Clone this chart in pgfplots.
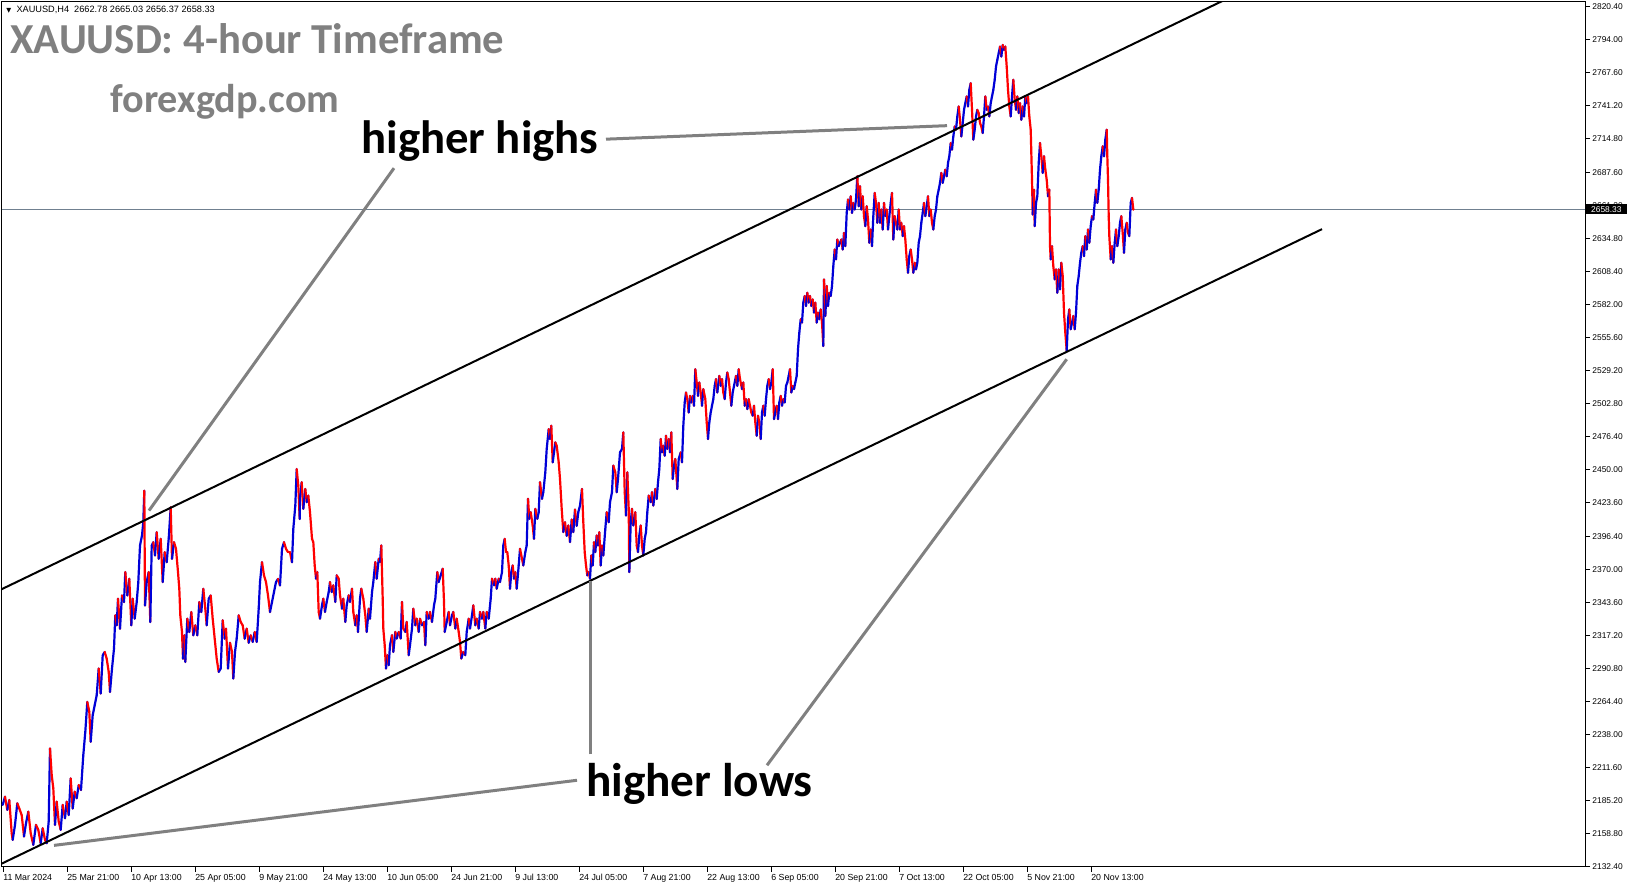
\documentclass[border=0pt]{standalone}
\usepackage{fontspec}
\setmainfont{Liberation Sans}
\newfontfamily\calfont{Carlito}
\newfontfamily\dvfont{DejaVu Sans}
\usepackage{pgfplots}
\usepackage{pgfplotstable}
\pgfplotsset{compat=1.18}
\definecolor{mtblue}{RGB}{0,0,215}
\definecolor{mtred}{RGB}{255,0,0}
\definecolor{annot}{RGB}{128,128,128}
\definecolor{pline}{RGB}{112,128,144}

\pgfplotstableread{
x p
2.7 2181.7
5 2188.3
7.3 2177.7
9.3 2185.6
11.7 2159.0
12.7 2153.7
15 2165.7
17.3 2183.0
19.3 2178.8
21.7 2173.6
24 2156.4
26 2167.0
28.3 2176.3
30.7 2159.0
33.3 2149.7
36 2165.7
38.3 2161.7
40.7 2151.0
42.7 2163.0
45 2153.7
46.7 2151.0
48.7 2168.4
50 2226.9
51.7 2205.6
53.3 2195.0
55 2165.7
56.7 2184.3
58.7 2168.4
60.7 2161.7
62.7 2181.7
65 2171.0
66.7 2184.3
68.7 2173.6
70.7 2202.9
72.7 2178.8
74.7 2192.3
76.7 2187.0
78.7 2197.6
81 2193.6
83.3 2221.6
85.3 2240.2
87.3 2264.1
89.3 2256.2
90.7 2232.2
92.7 2253.5
94.7 2261.5
96.7 2269.5
98.7 2290.8
100.7 2270.8
102.7 2301.4
104.7 2304.1
106.7 2298.7
108.7 2288.1
110 2272.1
112 2290.8
114 2306.7
115.3 2333.4
116.7 2325.4
118 2346.7
120 2322.7
122 2349.3
124 2344.0
125.3 2368.0
127.3 2349.3
129.3 2362.6
131.3 2325.4
132.7 2346.7
134.7 2330.7
136.7 2344.0
138.3 2360.0
140 2389.2
142 2397.2
143.3 2407.9
144.3 2433.1
145 2341.3
146.7 2360.0
148.7 2368.0
150.3 2328.0
151.7 2389.2
153.3 2391.9
155 2381.3
156.7 2399.9
158.7 2378.6
160.7 2394.6
162.7 2360.0
164.7 2383.9
166.7 2375.9
168.7 2394.6
170.7 2419.8
172 2378.6
174 2391.9
176 2386.6
178 2368.0
179.3 2354.6
180.3 2333.4
182 2320.0
183 2298.7
184.3 2317.4
185.3 2296.1
187.3 2330.7
189.3 2320.0
191.3 2336.0
193.3 2317.4
195.3 2325.4
197.3 2317.4
199.3 2344.0
201.3 2336.0
203.3 2354.6
205.3 2338.7
206.7 2325.4
208.7 2346.7
210.7 2349.3
212.7 2330.7
214.7 2314.7
216.7 2298.7
218.7 2288.1
220.7 2290.8
222.7 2329.4
224.7 2314.7
226 2322.7
228 2290.8
230 2311.4
232 2304.1
233.3 2282.8
235 2304.1
236.7 2314.7
238.7 2333.4
240.7 2328.0
242.7 2325.4
244.7 2314.7
246.7 2322.7
248.7 2311.4
250.7 2317.4
252.7 2312.1
254.7 2320.0
256.7 2312.1
258.7 2338.7
260 2360.0
262 2375.9
264 2365.3
266 2360.0
268 2349.3
270 2336.0
272 2344.0
274 2352.0
276 2360.0
278 2362.6
280 2357.3
282 2386.6
284 2391.9
286 2386.6
288 2383.9
290 2383.9
292 2375.9
293.3 2402.5
295.3 2421.2
296.7 2450.4
298.3 2437.1
299.7 2410.5
300 2426.6
301.7 2439.9
303.3 2418.6
305.3 2434.5
306.7 2423.9
308.3 2429.2
310 2415.9
312 2394.6
313.3 2391.9
314.7 2373.3
316 2362.7
317.3 2368.0
318.7 2336.1
320 2330.7
322 2341.4
323.3 2346.7
325 2336.1
326.7 2344.1
328.7 2352.0
330 2360.0
331.7 2352.0
333.3 2357.4
335.3 2344.1
336.7 2365.4
338.7 2362.7
340 2349.4
342 2338.7
343.3 2346.7
345.3 2328.1
346.7 2341.4
348.7 2349.4
350 2344.1
352 2354.7
353.3 2336.1
355.3 2325.4
356.7 2333.4
358 2320.1
360 2346.7
361.3 2354.7
363.3 2346.7
365.3 2333.4
366.7 2320.1
368.7 2338.7
370 2330.7
372 2352.0
373.3 2360.0
375.3 2376.0
376.7 2362.7
378.7 2378.6
380 2376.0
381.3 2389.3
382.7 2346.7
383.3 2322.8
384.7 2309.5
386 2290.8
387.3 2301.5
388.7 2293.5
390 2309.5
392 2317.5
393.3 2304.1
395.3 2320.1
396.7 2314.8
398.7 2320.1
400.7 2314.8
402 2344.1
403.3 2322.8
405.3 2320.1
406.7 2328.1
408.7 2301.5
410 2309.5
412 2322.8
413.3 2338.7
415.3 2325.4
416.7 2330.7
418.7 2320.1
420 2330.7
422 2325.4
424 2328.1
425.3 2309.5
426.7 2336.1
428.7 2330.7
430 2336.1
432 2328.1
434 2341.4
435.3 2346.7
437.3 2368.0
438.7 2360.0
440.7 2365.4
442.7 2370.7
444 2344.1
444.7 2320.1
446.7 2328.1
448.7 2336.1
450 2325.4
452 2333.4
453.3 2336.1
455.3 2322.8
456.7 2330.7
458.7 2320.1
460 2312.1
461.3 2298.8
463.3 2304.1
465.3 2301.5
466.7 2320.1
468.7 2330.7
470 2322.8
472 2333.4
473.3 2341.4
475.3 2325.4
476.7 2330.7
478.7 2322.8
480 2336.1
482 2330.7
483.3 2336.1
485.3 2322.8
486.7 2336.1
488.7 2330.7
490.7 2346.7
492 2362.7
494 2357.4
495.3 2362.7
496.7 2354.7
498.7 2362.7
500 2360.0
502 2368.0
503.3 2389.3
504.7 2394.6
506 2384.0
507.3 2384.0
508.7 2373.3
510 2354.7
511.3 2368.0
512.7 2373.3
514 2362.7
515.3 2368.0
516.7 2354.7
518.7 2373.3
520 2386.6
522 2378.6
523.3 2373.3
525.3 2384.0
526.7 2389.3
528 2426.6
529.3 2410.6
530.7 2415.9
532.7 2405.3
534 2394.6
535.3 2418.6
537.3 2410.6
538.7 2415.9
540 2439.9
542 2426.6
543.3 2431.9
545.3 2447.9
546.7 2466.5
548.7 2482.4
550 2474.5
551.3 2485.1
552.7 2455.8
554 2463.8
555.3 2471.8
556.7 2469.1
558.7 2455.8
560 2442.5
561.7 2418.6
563.3 2400.0
565 2407.9
566.7 2397.0
568.3 2405.3
570 2392.0
571.7 2410.0
573.3 2400.0
575 2418.0
576.7 2405.0
578.3 2416.0
580 2421.2
582 2434.5
583.3 2407.9
584.7 2384.0
586 2373.3
587.3 2365.3
588.7 2368.0
590 2362.7
591.3 2381.3
592.7 2373.3
594 2391.9
595.3 2384.0
596.7 2397.3
598 2389.3
599.3 2399.9
600.7 2373.3
602 2389.3
603.3 2381.3
605.3 2402.6
606.7 2415.9
608.7 2407.9
610 2423.9
612 2431.9
613.3 2453.2
615.3 2447.8
616.7 2431.9
618 2442.5
620 2463.8
622 2466.5
623.3 2479.8
624.7 2431.9
626 2413.2
627.3 2447.8
628.7 2418.6
629.3 2368.0
630.7 2407.9
632 2418.6
633.3 2405.3
635.3 2415.9
636.7 2389.3
638 2384.0
639.3 2397.3
640.7 2405.3
642 2389.3
643.3 2381.3
644.7 2394.6
646 2399.9
647.3 2415.9
648.7 2429.2
650.7 2423.9
652 2431.9
653.3 2421.2
655.3 2434.5
656.7 2426.5
658 2439.9
659.3 2450.5
660.7 2474.5
662 2463.8
663.3 2469.1
664.7 2461.1
666 2477.1
667.3 2466.5
668.7 2474.5
670 2463.8
671.3 2479.8
672.7 2442.5
674 2453.2
675.3 2458.5
676.7 2442.5
677.3 2434.5
678.7 2458.5
680.7 2463.8
682 2455.8
683.3 2485.1
684.7 2503.7
686 2511.7
687.3 2506.4
688.7 2495.7
690 2509.0
691.3 2503.7
692.7 2509.0
694 2501.1
695.3 2530.3
696.7 2519.7
698 2509.0
699.3 2519.7
700.7 2511.7
702 2501.1
703.3 2514.4
705.3 2506.4
706.7 2487.8
708 2474.5
709.3 2487.8
710.7 2495.7
712 2501.1
713.3 2506.4
714.7 2517.0
716 2522.4
717.3 2511.7
719.3 2525.0
720.7 2517.0
722 2522.4
723.3 2511.7
724.7 2506.4
726 2519.7
727.3 2527.7
728.7 2522.4
730 2511.7
731.3 2501.1
732.7 2511.7
734 2517.0
736 2525.0
737.3 2517.0
738.7 2530.3
740 2522.4
742 2514.4
743.3 2519.7
744.7 2501.1
746 2506.4
747.3 2498.4
748.7 2506.4
750 2501.1
751.3 2495.7
752.7 2493.1
754 2501.1
755.3 2487.8
756.7 2477.1
758 2493.1
759.3 2487.8
760.7 2474.5
762 2495.7
763.3 2501.1
764.7 2493.1
766 2506.4
767.3 2517.0
768.7 2522.4
770 2514.4
771.3 2519.7
772.7 2530.3
774 2490.4
775.3 2495.7
776.7 2501.1
778 2490.4
779.3 2503.7
780.7 2509.0
782 2501.1
783.3 2506.4
784.7 2503.7
786 2517.0
787.3 2519.7
788.7 2525.0
790 2530.3
791.3 2511.7
792.7 2517.0
794 2514.4
795.3 2519.7
796.7 2525.0
798 2546.3
799.3 2559.6
800.7 2570.3
802 2567.6
803.3 2583.6
804.7 2588.9
806 2580.9
807.3 2591.5
808.7 2583.6
810 2588.9
811.3 2580.9
812.7 2586.2
814 2575.6
815.3 2583.6
816.7 2567.6
818 2575.6
819.3 2570.3
820.7 2578.2
822 2567.6
823.3 2548.9
824 2602.2
825.3 2572.9
826.7 2596.9
828 2580.9
829.3 2591.5
830.7 2588.9
832 2596.9
833.3 2612.8
834.7 2626.1
836 2618.2
837.3 2634.1
838.7 2628.8
840 2631.5
841.3 2634.1
842.7 2626.1
844 2639.4
845.3 2628.8
846.7 2655.4
848 2666.1
849.3 2658.1
850.7 2668.7
852 2655.4
853.3 2663.4
854.7 2658.1
856 2666.1
857.3 2684.7
858.7 2660.7
860 2676.7
861.3 2658.1
862.7 2668.7
864 2652.8
865.3 2644.8
866.7 2660.7
868 2650.1
869.3 2631.5
870.7 2642.1
872 2628.8
873.3 2652.8
874.7 2671.4
876 2663.4
877.3 2647.5
878.7 2663.4
880 2647.5
881.3 2658.1
882.7 2642.1
884 2663.4
885.3 2652.8
886.7 2658.1
888 2642.1
889.3 2652.8
890.7 2663.4
892 2671.4
893.3 2634.1
894.7 2652.8
896 2647.5
897.3 2642.1
898.7 2658.1
900 2642.1
901.3 2647.5
902.7 2636.8
904 2644.8
905.3 2634.1
906.7 2618.2
908 2607.5
909.3 2620.8
910.7 2626.1
912 2618.2
913.3 2607.5
914.7 2615.5
916 2610.2
917.3 2615.5
918.7 2631.5
920 2636.8
921.3 2647.5
922.7 2655.4
924 2663.4
925.3 2652.8
926.7 2660.7
928 2668.7
929.3 2652.8
930.7 2658.1
932 2647.5
933.3 2642.1
934.7 2652.8
936 2658.1
937.3 2668.7
938.7 2674.0
940 2679.4
941.3 2687.4
942.7 2679.4
944 2684.7
945.3 2690.0
946.7 2684.7
948 2695.3
949.3 2700.7
950.7 2711.3
952 2706.0
953.3 2716.6
954.7 2724.6
956 2722.0
957.3 2732.6
958.7 2740.6
960 2730.0
961.3 2716.6
962.7 2727.3
964 2737.9
965.3 2743.2
966.7 2748.6
968 2740.6
969.3 2753.9
970.7 2759.2
972 2737.9
973.3 2714.0
974.7 2722.0
976 2732.6
977.3 2737.9
978.7 2735.3
980 2727.3
981.3 2724.6
982.7 2719.3
984 2732.6
985.3 2748.6
986.7 2737.9
988 2740.6
989.3 2732.6
990.7 2743.2
992 2748.6
993.3 2753.9
994.7 2761.9
996 2772.5
997.3 2777.9
998.7 2783.2
1000 2788.5
1001.3 2780.5
1002.7 2789.8
1004 2785.8
1005.3 2788.5
1006.7 2772.5
1008 2753.9
1009.3 2740.6
1010.7 2732.6
1012 2748.6
1013.3 2761.9
1014.7 2745.9
1016 2737.9
1017.3 2748.6
1018.7 2735.3
1020 2743.2
1021.3 2729.9
1022.7 2740.6
1024 2732.6
1025.3 2748.6
1026.7 2743.2
1028 2748.6
1029.3 2732.6
1030.7 2722.0
1031.3 2703.3
1032 2682.0
1032.7 2654.1
1034 2674.0
1034.7 2644.8
1036 2663.4
1037.3 2668.7
1038.7 2695.3
1040 2711.3
1041.3 2700.7
1042.7 2687.4
1044 2700.7
1045.3 2690.0
1046.7 2682.0
1048 2668.7
1049.3 2674.0
1050 2628.8
1050.7 2618.2
1052 2628.8
1053.3 2612.8
1054.7 2602.2
1056 2610.2
1057.3 2591.5
1058.7 2610.2
1060 2594.2
1061.3 2615.5
1062.7 2604.9
1064 2575.6
1065.3 2559.6
1066.7 2545.0
1068 2570.3
1069.3 2578.2
1070.7 2562.3
1072 2567.6
1073.3 2572.9
1074.7 2562.3
1076 2575.6
1077.3 2596.9
1078.7 2604.9
1080 2615.5
1081.3 2623.5
1082.7 2628.8
1084 2620.8
1085.3 2636.8
1086.7 2626.1
1088 2642.1
1089.3 2631.5
1090.7 2644.8
1092 2652.8
1093.3 2650.1
1094.7 2663.4
1096 2674.0
1097.3 2663.4
1098.7 2674.0
1100 2690.0
1101.3 2700.7
1102.7 2708.7
1104 2700.7
1105.3 2714.0
1106.7 2722.0
1107.3 2700.7
1108 2682.0
1108.7 2652.8
1109.3 2636.8
1110.7 2618.2
1112 2628.8
1113.3 2615.5
1114.7 2631.5
1116 2642.1
1117.3 2628.8
1118.7 2636.8
1120 2647.5
1121.3 2652.8
1122.7 2639.4
1124 2623.5
1125.3 2642.1
1126.7 2647.5
1128 2639.4
1129.3 2636.8
1130.7 2663.4
1132 2667.4
1133.3 2658.1
}\pricedata

\pgfplotstablecreatecol[create col/assign/.code={%
  \getthisrow{p}{\curp}\getnextrow{p}{\nxtp}%
  \ifx\nxtp\empty\def\entry{0}\else\pgfmathparse{\nxtp-\curp}\let\entry\pgfmathresult\fi
  \pgfkeyslet{/pgfplots/table/create col/next content}\entry}]{dp}\pricedata
\pgfplotstablecreatecol[create col/assign/.code={%
  \getthisrow{x}{\curx}\getnextrow{x}{\nxtx}%
  \ifx\nxtx\empty\def\entry{0}\else\pgfmathparse{\nxtx-\curx}\let\entry\pgfmathresult\fi
  \pgfkeyslet{/pgfplots/table/create col/next content}\entry}]{dx}\pricedata
\pgfplotstablecreatecol[create col/assign/.code={%
  \getthisrow{p}{\curp}\getnextrow{p}{\nxtp}%
  \ifx\nxtp\empty\def\entry{0}\else\pgfmathparse{\nxtp>\curp ? 1 : 0}\let\entry\pgfmathresult\fi
  \pgfkeyslet{/pgfplots/table/create col/next content}\entry}]{up}\pricedata

\begin{document}
\begin{tikzpicture}
\useasboundingbox (0pt,0pt) rectangle (815.5pt,444pt);
\begin{axis}[
  at={(0.85pt,10.75pt)}, anchor=south west,
  scale only axis, width=791.65pt, height=432.4pt,
  xmin=1.7, xmax=1585, ymin=2132.4, ymax=2824.4,
  axis line style={line width=0.5pt, black},
  every tick/.style={line width=0.5pt, black},
  tick align=outside, major tick length=2.5pt,
  xtick pos=left, ytick pos=right, yticklabel pos=right,
  xtick={3.5,67.5,131.5,195.5,259.5,323.5,387.5,451.5,515.5,579.5,643.5,707.5,771.5,835.5,899.5,963.5,1027.5,1091.5},
  xticklabels={11 Mar 2024,25 Mar 21:00,10 Apr 13:00,25 Apr 05:00,9 May 21:00,24 May 13:00,10 Jun 05:00,24 Jun 21:00,9 Jul 13:00,24 Jul 05:00,7 Aug 21:00,22 Aug 13:00,6 Sep 05:00,20 Sep 21:00,7 Oct 13:00,22 Oct 05:00,5 Nov 21:00,20 Nov 13:00},
  ytick={2132.4,2158.8,2185.2,2211.6,2238.0,2264.4,2290.8,2317.2,2343.6,2370.0,2396.4,2423.6,2450.0,2476.4,2502.8,2529.2,2555.6,2582.0,2608.4,2634.8,2661.2,2687.6,2714.8,2741.2,2767.6,2794.0,2820.4},
  yticklabels={2132.40,2158.80,2185.20,2211.60,2238.00,2264.40,2290.80,2317.20,2343.60,2370.00,2396.40,2423.60,2450.00,2476.40,2502.80,2529.20,2555.60,2582.00,2608.40,2634.80,2661.20,2687.60,2714.80,2741.20,2767.60,2794.00,2820.40},
  yticklabel style={anchor=west, inner sep=0pt, xshift=1pt, font=\fontsize{4.2}{5}\selectfont},
  xticklabel style={anchor=north west, inner sep=0pt, xshift=-0.3pt, yshift=-1pt, font=\fontsize{4.4}{5}\selectfont},
  clip mode=individual,
  colormap={rb}{rgb255=(255,0,0) rgb255=(0,0,215)},
  point meta min=0, point meta max=1,
]
% current price line
\addplot[pline, line width=0.5pt] coordinates {(1.7,2658.33) (1585,2658.33)};
% price series: each step coloured by direction (blue up, red down)
\addplot[quiver={u=\thisrow{dx}, v=\thisrow{dp}, colored}, point meta=\thisrow{up},
  line width=1.1pt, line cap=round] table[x=x, y=p] {\pricedata};
% channel lines
\addplot[black, line width=1pt] coordinates {(1.7,2354.3) (1300,2854.9)};
\addplot[black, line width=1pt] coordinates {(1.7,2134.7) (1322,2642.4)};
% annotation pointers
\addplot[annot, line width=1.5pt] coordinates {(606,2714.4) (947,2725.2)};
\addplot[annot, line width=1.5pt] coordinates {(394,2691.2) (149,2417.2)};
\addplot[annot, line width=1.5pt] coordinates {(577,2201.4) (54,2149.3)};
\addplot[annot, line width=1.5pt] coordinates {(590,2222.1) (590,2361.0)};
\addplot[annot, line width=1.5pt] coordinates {(767,2213.4) (1066.7,2538.3)};
\coordinate (pbox) at (axis cs:1585,2658.33);
\end{axis}
\node[anchor=west, fill=black, text=white, inner xsep=2.6pt, inner ysep=0.8pt, minimum height=5pt,
  font=\fontsize{4.2}{5}\selectfont] at ([xshift=0.3pt]pbox) {2658.33};
\node[anchor=west, inner sep=0pt, font=\fontsize{4.6}{5}\selectfont] at (3pt,439pt)
  {{\dvfont\fontsize{3.2}{4}\selectfont ▼}\hspace{2.6pt}XAUUSD,H4\hspace{2.5pt}2662.78 2665.03 2656.37 2658.33};
\node[anchor=base west, inner sep=0pt, text=annot] at (5pt,417pt)
  {\resizebox{247pt}{!}{\calfont\bfseries XAUUSD: 4-hour Timeframe}};
\node[anchor=base west, inner sep=0pt, text=annot] at (55pt,387.5pt)
  {\resizebox{114.5pt}{!}{\calfont\bfseries forexgdp.com}};
\node[anchor=base west, inner sep=0pt, text=black] at (180.5pt,367pt)
  {\resizebox{118.5pt}{!}{\calfont\bfseries higher highs}};
\node[anchor=base west, inner sep=0pt, text=black] at (292.8pt,45.5pt)
  {\resizebox{113.4pt}{!}{\calfont\bfseries higher lows}};
\end{tikzpicture}
\end{document}
